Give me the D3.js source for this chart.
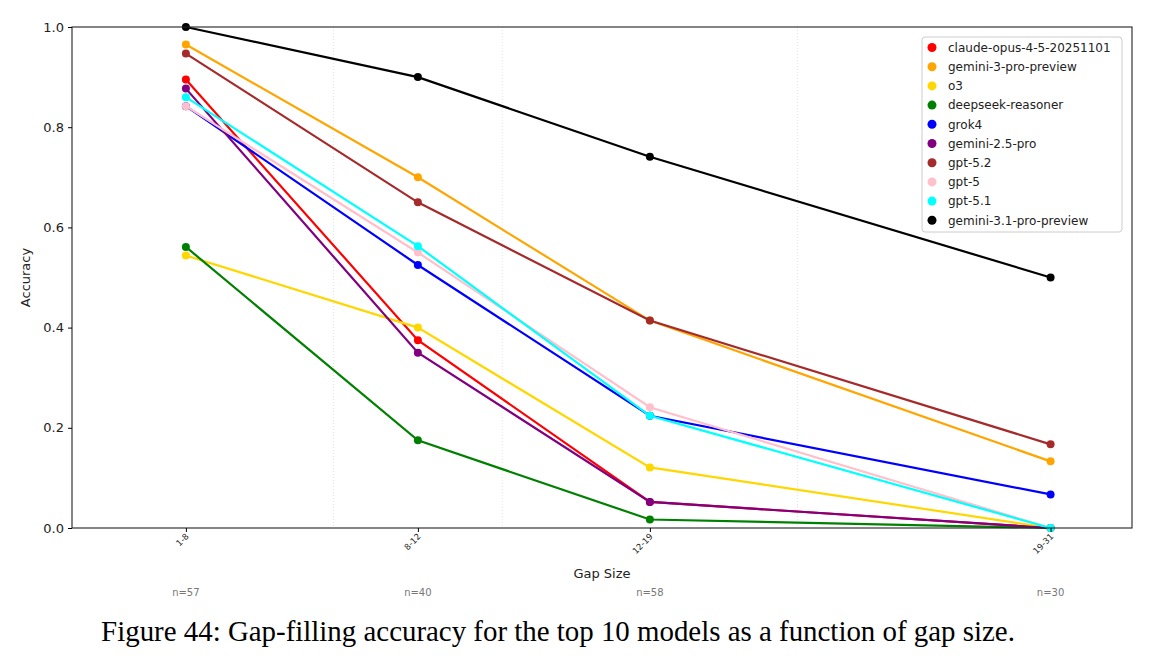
<!DOCTYPE html>
<html>
<head>
<meta charset="utf-8">
<script src="https://cdn.jsdelivr.net/npm/d3@7"></script>
<style>
  body { margin: 0; background: #fff; }
  svg { font-family: "DejaVu Sans", sans-serif; }
  .grid line { stroke: #ddd; stroke-dasharray: 1,2; stroke-width: 0.8; }
</style>
</head>
<body>
<div id="chart"></div>
<script>
// gap bins: label, midpoint used for x position, sample count
var bins = ["1-8", "8-12", "12-19", "19-31"];
var binMid = [4.5, 10, 15.5, 25];
var binN = [57, 40, 58, 30];
var binEdges = [8, 12, 19];

var models = ["claude-opus-4-5-20251101", "gemini-3-pro-preview", "o3", "deepseek-reasoner", "grok4",
  "gemini-2.5-pro", "gpt-5.2", "gpt-5", "gpt-5.1", "gemini-3.1-pro-preview"];
var colors = ["#ff0000", "#ffa500", "#ffd700", "#008000", "#0000ff",
  "#800080", "#a52a2a", "#ffc0cb", "#00ffff", "#000000"];

var claude   = [0.895, 0.375, 0.052, 0.0];
var gemini3  = [0.965, 0.700, 0.414, 0.133];
var o3       = [0.544, 0.400, 0.121, 0.0];
var deepseek = [0.561, 0.175, 0.017, 0.0];
var grok4    = [0.842, 0.525, 0.224, 0.067];
var gemini25 = [0.877, 0.350, 0.052, 0.0];
var gpt52    = [0.947, 0.650, 0.414, 0.167];
var gpt5     = [0.842, 0.550, 0.241, 0.0];
var gpt51    = [0.860, 0.5625, 0.224, 0.0];
var gemini31 = [1.000, 0.900, 0.741, 0.500];
var series = [claude, gemini3, o3, deepseek, grok4, gemini25, gpt52, gpt5, gpt51, gemini31];

var yTicks = [0, 0.2, 0.4, 0.6, 0.8, 1.0];

var W = 1156, H = 662;
var margin = {top: 27, right: 24, bottom: 134, left: 72};
var width = W - margin.left - margin.right,
    height = H - margin.top - margin.bottom;

var svg = d3.select("#chart").append("svg").attr("width", W).attr("height", H);
var g = svg.append("g").attr("transform", "translate(" + margin.left + "," + margin.top + ")");

var x = d3.scaleLinear().domain([1.8, 26.93]).range([0, width]);
var y = d3.scaleLinear().domain([0, 1]).range([height, 0]);

// faint bin-edge grid
g.append("g").attr("class", "grid").selectAll("line")
  .data(binEdges).enter().append("line")
  .attr("x1", function(d) { return x(d); }).attr("x2", function(d) { return x(d); })
  .attr("y1", 0).attr("y2", height);

var line = d3.line()
  .x(function(d, i) { return x(binMid[i]); })
  .y(function(d) { return y(d); });

series.forEach(function(s, k) {
  g.append("path").datum(s)
    .attr("d", line)
    .attr("fill", "none")
    .attr("stroke", colors[k])
    .attr("stroke-width", 2.2);
  g.selectAll(null).data(s).enter().append("circle")
    .attr("cx", function(d, i) { return x(binMid[i]); })
    .attr("cy", function(d) { return y(d); })
    .attr("r", 4)
    .attr("fill", colors[k]);
});

// frame
g.append("rect").attr("width", width).attr("height", height)
  .attr("fill", "none").attr("stroke", "#222").attr("stroke-width", 1.1);

// y axis
var ya = g.append("g")
  .call(d3.axisLeft(y).tickValues(yTicks).tickFormat(d3.format(".1f")).tickSize(4).tickPadding(4));
ya.select(".domain").remove();
ya.selectAll("text").attr("font-size", 13).attr("fill", "#222").attr("font-family", "DejaVu Sans");

g.append("text")
  .attr("transform", "translate(" + (-42) + "," + (height / 2) + ") rotate(-90)")
  .attr("text-anchor", "middle").attr("font-size", 13).attr("fill", "#222")
  .text("Accuracy");

// x axis
var xa = g.append("g").attr("transform", "translate(0," + height + ")")
  .call(d3.axisBottom(x).tickValues(binMid).tickFormat(function(d, i) { return bins[i]; }).tickSize(4));
xa.select(".domain").remove();
xa.selectAll("text")
  .attr("font-size", 8.5).attr("fill", "#222").attr("font-family", "DejaVu Sans")
  .attr("text-anchor", "end").attr("dy", 0).attr("y", 0)
  .attr("transform", "translate(3,9) rotate(-45)");

g.append("text")
  .attr("x", width / 2).attr("y", height + 50)
  .attr("text-anchor", "middle").attr("font-size", 13).attr("fill", "#222")
  .text("Gap Size");

g.selectAll(".ncount").data(binN).enter().append("text")
  .attr("class", "ncount")
  .attr("x", function(d, i) { return x(binMid[i]); })
  .attr("y", height + 68)
  .attr("text-anchor", "middle").attr("font-size", 10).attr("fill", "#777")
  .text(function(d) { return "n=" + d; });

// legend
var lg = g.append("g").attr("transform", "translate(" + (width - 210) + ",10)");
lg.append("rect").attr("width", 200).attr("height", 195).attr("rx", 3)
  .attr("fill", "#fff").attr("fill-opacity", 0.85).attr("stroke", "#ccc");
var items = lg.selectAll(".item").data(models).enter().append("g")
  .attr("transform", function(d, i) { return "translate(10," + (10.5 + i * 19.2) + ")"; });
items.append("circle").attr("r", 4.5).attr("fill", function(d, i) { return colors[i]; });
items.append("text").attr("x", 16).attr("dy", "0.35em")
  .attr("font-size", 12).attr("fill", "#222").text(function(d) { return d; });

// caption
svg.append("text")
  .attr("x", 558).attr("y", 641)
  .attr("text-anchor", "middle")
  .attr("font-family", "Liberation Serif, Times New Roman, serif")
  .attr("font-size", 28.9).attr("fill", "#000")
  .text("Figure 44: Gap-filling accuracy for the top 10 models as a function of gap size.");
</script>
</body>
</html>
